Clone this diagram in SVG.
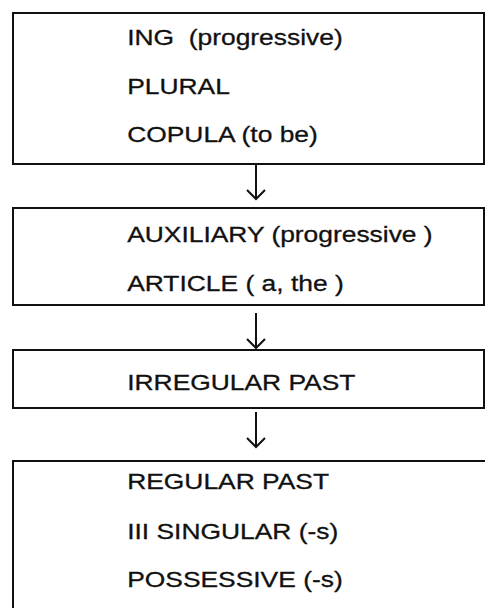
<svg xmlns="http://www.w3.org/2000/svg" width="485" height="608" viewBox="0 0 485 608">
<style>
.box{fill:#fff;stroke:#111;stroke-width:2}
.lbl{font-family:"Liberation Sans",Arial,sans-serif;font-size:22px;fill:#111;stroke:#111;stroke-width:0.3}
.arr{fill:none;stroke:#111;stroke-width:2}
</style>
<rect width="485" height="608" fill="#fff"/>
<g id="connectors">
<path class="arr" d="M256,165 V199 M247,190 L256,199 L265,190"/>
<path class="arr" d="M256,313 V348 M247,339 L256,348 L265,339"/>
<path class="arr" d="M256,412 V447 M247,438 L256,447 L265,438"/>
</g>
<g id="node1">
<rect class="box" x="13" y="13" width="471" height="151"/>
<g transform="scale(1.2,1)">
<text class="lbl" x="106" y="45" xml:space="preserve">ING  (progressive)</text>
<text class="lbl" x="106" y="94">PLURAL</text>
<text class="lbl" x="106" y="142">COPULA (to be)</text>
</g>
</g>
<g id="node2">
<rect class="box" x="13" y="208" width="471" height="97"/>
<g transform="scale(1.2,1)">
<text class="lbl" x="106" y="242">AUXILIARY (progressive )</text>
<text class="lbl" x="106" y="291">ARTICLE ( a, the )</text>
</g>
</g>
<g id="node3">
<rect class="box" x="13" y="350" width="471" height="58"/>
<g transform="scale(1.2,1)">
<text class="lbl" x="106" y="390">IRREGULAR PAST</text>
</g>
</g>
<g id="node4">
<rect class="box" x="13" y="461" width="485" height="160"/>
<g transform="scale(1.2,1)">
<text class="lbl" x="106" y="489">REGULAR PAST</text>
<text class="lbl" x="106" y="539">III SINGULAR (-s)</text>
<text class="lbl" x="106" y="587">POSSESSIVE (-s)</text>
</g>
</g>
</svg>
